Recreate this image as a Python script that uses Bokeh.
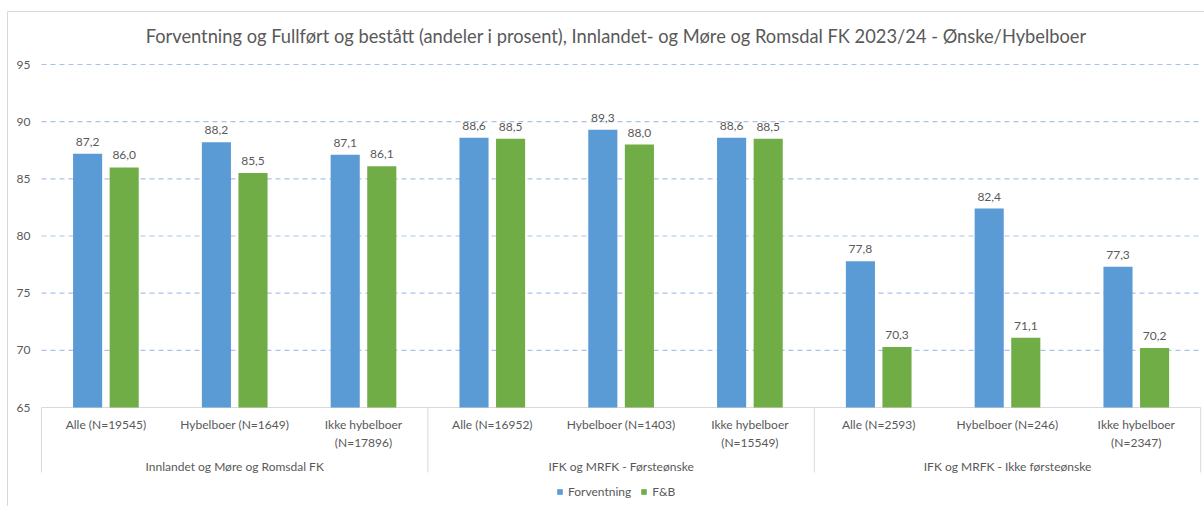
from bokeh.plotting import figure
from bokeh.models import ColumnDataSource, Range1d, Legend, LegendItem
from bokeh.core.properties import value
from bokeh.embed import file_html
from bokeh.resources import INLINE

# ---------------- data ----------------
title_text = "Forventning og Fullført og bestått (andeler i prosent), Innlandet- og Møre og Romsdal FK 2023/24 - Ønske/Hybelboer"
categories = ["Alle (N=19545)", "Hybelboer (N=1649)", "Ikke hybelboer\n(N=17896)",
              "Alle (N=16952)", "Hybelboer (N=1403)", "Ikke hybelboer\n(N=15549)",
              "Alle (N=2593)", "Hybelboer (N=246)", "Ikke hybelboer\n(N=2347)"]
groups = ["Innlandet og Møre og Romsdal FK", "IFK og MRFK - Førsteønske", "IFK og MRFK - Ikke førsteønske"]
group_sizes = [3, 3, 3]
forventning = [87.2, 88.2, 87.1, 88.6, 89.3, 88.6, 77.8, 82.4, 77.3]
fb = [86.0, 85.5, 86.1, 88.5, 88.0, 88.5, 70.3, 71.1, 70.2]
series_names = ["Forventning", "F&B"]
y_ticks = [65, 70, 75, 80, 85, 90, 95]

# ---------------- layout / style ----------------
W, H = 1204, 506
PX_X = 128.8           # px per category
PX_Y = 343 / 30        # px per percentage point
X0 = -41 / PX_X
X1 = X0 + W / PX_X
Y1 = 95 + 64 / PX_Y
Y0 = Y1 - H / PX_Y
BASE = y_ticks[0]
BLUE = "#5b9bd5"
GREEN = "#70ad47"
TXT = "#595959"
FONT = value("Lato")
n = len(categories)

p = figure(width=W, height=H, output_backend="svg", toolbar_location=None,
           x_range=Range1d(X0, X1), y_range=Range1d(Y0, Y1),
           min_border=0, min_border_left=0, min_border_right=0,
           min_border_top=0, min_border_bottom=0)
p.xaxis.visible = False
p.yaxis.visible = False
p.xgrid.visible = False
p.ygrid.visible = False
p.outline_line_color = None
p.background_fill_color = "white"
p.border_fill_color = "white"

# chart border (top and left)
p.line(x=[X0 + 7 / PX_X, X0 + 7 / PX_X, X1], y=[Y0, Y1 - 11 / PX_Y, Y1 - 11 / PX_Y],
       line_color="#d9d9d9", line_width=1)

# gridlines
grid_vals = y_ticks[1:]
p.segment(x0=[0] * len(grid_vals), x1=[n] * len(grid_vals), y0=grid_vals, y1=grid_vals,
          line_color="#a9c1ea", line_width=1.2, line_dash="5 4")
# axis line
p.segment(x0=[0], x1=[n], y0=[BASE], y1=[BASE], line_color="#d9d9d9", line_width=1)

# group separators
bounds = [0]
for g in group_sizes:
    bounds.append(bounds[-1] + g)
p.segment(x0=bounds, x1=bounds, y0=[BASE] * len(bounds), y1=[BASE - 65 / PX_Y] * len(bounds),
          line_color="#d9d9d9", line_width=1)

# tick labels
p.text(x=[0] * len(y_ticks), y=y_ticks, text=[str(t) for t in y_ticks],
       x_offset=-11, text_align="right", text_baseline="middle",
       text_font=FONT, text_font_size="12px", text_color=TXT)

# bars
OFF = 0.142
BW = 0.226
xs = [i + 0.5 for i in range(n)]
src = ColumnDataSource(dict(
    xb=[x - OFF for x in xs], xg=[x + OFF for x in xs],
    fv=forventning, fb=fb,
    lf=[f"{v:.1f}".replace(".", ",") for v in forventning],
    lb=[f"{v:.1f}".replace(".", ",") for v in fb],
))
rb = p.vbar(x="xb", top="fv", bottom=BASE, width=BW, fill_color=BLUE, line_color=None, source=src)
rg = p.vbar(x="xg", top="fb", bottom=BASE, width=BW, fill_color=GREEN, line_color=None, source=src)

# value labels
p.text(x="xb", y="fv", text="lf", source=src, y_offset=-12, text_align="center",
       text_baseline="middle", text_font=FONT, text_font_size="12px", text_color=TXT)
p.text(x="xg", y="fb", text="lb", source=src, y_offset=-12, text_align="center",
       text_baseline="middle", text_font=FONT, text_font_size="12px", text_color=TXT)

# category labels (one or two lines)
line1 = [c.split("\n")[0] for c in categories]
line2 = [c.split("\n")[1] if "\n" in c else "" for c in categories]
p.text(x=xs, y=[BASE] * n, text=line1, y_offset=17, text_align="center", text_baseline="middle",
       text_font=FONT, text_font_size="12px", text_color=TXT)
p.text(x=xs, y=[BASE] * n, text=line2, y_offset=35, text_align="center", text_baseline="middle",
       text_font=FONT, text_font_size="12px", text_color=TXT)

# group labels
gx = [(bounds[i] + bounds[i + 1]) / 2 for i in range(len(groups))]
p.text(x=gx, y=[BASE] * len(groups), text=groups, y_offset=59, text_align="center",
       text_baseline="middle", text_font=FONT, text_font_size="12px", text_color=TXT)

# title
p.text(x=[n / 2], y=[95], text=[title_text], x_offset=-5, y_offset=-29, text_align="center",
       text_baseline="middle", text_font=FONT, text_font_size="18.3px", text_color=TXT)

# legend
legend = Legend(items=[LegendItem(label=series_names[0], renderers=[rb]),
                       LegendItem(label=series_names[1], renderers=[rg])],
                orientation="horizontal", location=(556, 7),
                glyph_width=7, glyph_height=7, label_height=12, label_width=10,
                label_text_font="Lato", label_text_font_size="12px", label_text_color=TXT,
                label_standoff=5, spacing=9, padding=0, margin=0,
                border_line_color=None, background_fill_alpha=0)
p.add_layout(legend)

open("out.html", "w").write(file_html(p, INLINE))
